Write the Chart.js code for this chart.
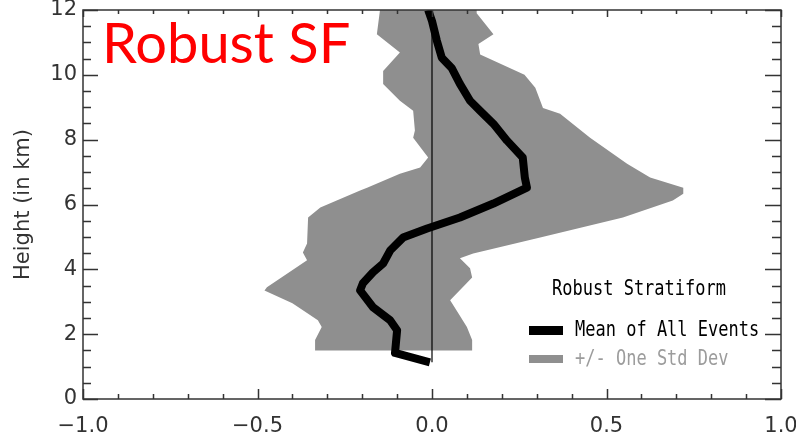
<!DOCTYPE html>
<html>
<head>
<meta charset="utf-8">
<script src="https://cdn.jsdelivr.net/npm/chart.js@4"></script>
<style>
  html, body { margin: 0; padding: 0; background: #fff; }
  #wrap { width: 796px; height: 438px; position: relative; }
</style>
</head>
<body>
<div id="wrap"><canvas id="profileChart"></canvas></div>
<script>
// mean profile of all events: height (km) -> value
const meanHeights = [1.13, 1.42, 2.12, 2.43, 2.83, 3.35, 3.57, 3.91, 4.18, 4.58, 4.98, 5.26, 5.6, 6.03, 6.52, 6.83, 7.45, 7.97, 8.49, 8.89, 9.2, 9.72, 10.2, 10.53, 11.05, 11.66, 12.0];
const meanValues  = [-0.006, -0.106, -0.10, -0.12, -0.169, -0.206, -0.198, -0.169, -0.14, -0.12, -0.083, -0.014, 0.08, 0.176, 0.272, 0.266, 0.26, 0.215, 0.176, 0.138, 0.109, 0.08, 0.057, 0.028, 0.014, 0.0, -0.011];

// mean minus one std dev
const lowerHeights = [1.5, 1.82, 2.22, 2.43, 2.95, 3.35, 3.45, 4.28, 4.52, 4.8, 5.6, 5.91, 6.43, 6.52, 6.95, 7.14, 7.45, 8.06, 8.28, 8.89, 9.2, 9.72, 10.12, 10.69, 11.25, 12.0];
const lowerValues  = [-0.335, -0.335, -0.316, -0.327, -0.40, -0.48, -0.473, -0.358, -0.37, -0.358, -0.355, -0.32, -0.206, -0.186, -0.092, -0.034, -0.011, -0.054, -0.049, -0.054, -0.092, -0.14, -0.14, -0.092, -0.158, -0.149];

// mean plus one std dev
const upperHeights = [1.5, 1.82, 2.22, 2.65, 3.05, 3.75, 4.03, 4.34, 4.49, 4.98, 5.6, 6.12, 6.33, 6.52, 6.83, 7.26, 8.06, 8.8, 8.98, 9.6, 10.0, 10.63, 10.95, 11.25, 11.9, 12.0];
const upperValues  = [0.115, 0.115, 0.10, 0.075, 0.052, 0.115, 0.109, 0.08, 0.118, 0.31, 0.547, 0.69, 0.72, 0.72, 0.625, 0.559, 0.453, 0.367, 0.318, 0.296, 0.265, 0.138, 0.133, 0.176, 0.128, 0.128];

// zero reference line
const zeroHeights = [1.13, 12.0];

const xTicks = [-1.0, -0.5, 0.0, 0.5, 1.0];
const yTicks = [0, 2, 4, 6, 8, 10, 12];

const legendTitle = 'Robust Stratiform';
const meanLabel = 'Mean of All Events';
const bandLabel = '+/- One Std Dev';
const panelLabel = 'Robust SF';

const toPoints = (hs, vs) => hs.map((h, i) => ({ x: vs[i], y: h }));

// closed envelope: up the lower edge, back down the upper edge
const bandPoints = toPoints(lowerHeights, lowerValues)
    .concat(toPoints(upperHeights, upperValues).reverse());

const axisColor = '#333';
const bandColor = '#8f8f8f';

// box frame with inward minor/major ticks on all four sides
const frameTicks = {
    id: 'frameTicks',
    afterDatasetsDraw(chart) {
        const { ctx, chartArea: a, scales: { x, y } } = chart;
        ctx.save();
        ctx.strokeStyle = axisColor;
        ctx.lineWidth = 1.5;
        ctx.strokeRect(a.left, a.top, a.right - a.left, a.bottom - a.top);
        ctx.beginPath();
        for (let i = 0; i <= 20; i++) {
            const px = Math.round(x.getPixelForValue(-1 + i * 0.1)) + 0.5;
            const major = i % 5 === 0;
            ctx.moveTo(px, a.bottom); ctx.lineTo(px, a.bottom - (major ? 10 : 5));
            ctx.moveTo(px, a.top); ctx.lineTo(px, a.top + (major ? 7 : 4));
        }
        for (let i = 0; i <= 24; i++) {
            const py = Math.round(y.getPixelForValue(i * 0.5)) + 0.5;
            const major = i % 4 === 0;
            ctx.moveTo(a.left, py); ctx.lineTo(a.left + (major ? 15 : 8), py);
            ctx.moveTo(a.right, py); ctx.lineTo(a.right - (major ? 16 : 9), py);
        }
        ctx.stroke();
        ctx.restore();
    }
};

function monoText(ctx, text, x, yMid, color) {
    ctx.save();
    ctx.translate(x, yMid);
    ctx.scale(1, 1.2);
    ctx.font = '17px "DejaVu Sans Mono"';
    ctx.fillStyle = color;
    ctx.textBaseline = 'middle';
    ctx.fillText(text, 0, 0);
    ctx.restore();
}

// in-plot legend and the red panel label
const annotations = {
    id: 'annotations',
    afterDraw(chart) {
        const { ctx } = chart;
        monoText(ctx, legendTitle, 552, 290, '#000');
        ctx.fillStyle = '#000';
        ctx.fillRect(529, 326, 34, 9);
        monoText(ctx, meanLabel, 575, 331, '#000');
        ctx.fillStyle = bandColor;
        ctx.fillRect(529, 355, 34, 8);
        monoText(ctx, bandLabel, 575, 360, '#9c9c9c');

        ctx.save();
        ctx.font = '56px Lato';
        ctx.fillStyle = '#ff0000';
        ctx.textBaseline = 'alphabetic';
        ctx.fillText(panelLabel, 102, 63);
        ctx.restore();
    }
};

const tickFont = { family: 'DejaVu Sans', size: 21 };

new Chart(document.getElementById('profileChart'), {
    type: 'line',
    data: {
        datasets: [
            {
                label: meanLabel,
                data: toPoints(meanHeights, meanValues),
                borderColor: '#000',
                borderWidth: 8,
                borderJoinStyle: 'round',
                pointRadius: 0,
                fill: false,
                order: 0
            },
            {
                label: 'zero',
                data: toPoints(zeroHeights, zeroHeights.map(() => 0)),
                borderColor: '#000',
                borderWidth: 1.2,
                pointRadius: 0,
                fill: false,
                order: 1
            },
            {
                label: bandLabel,
                data: bandPoints,
                borderWidth: 0,
                borderColor: bandColor,
                backgroundColor: bandColor,
                pointRadius: 0,
                fill: 'shape',
                order: 2
            }
        ]
    },
    options: {
        responsive: true,
        maintainAspectRatio: false,
        animation: false,
        events: [],
        layout: { padding: { top: 10, right: 15, left: 0, bottom: 0 } },
        plugins: { legend: { display: false }, tooltip: { enabled: false } },
        scales: {
            x: {
                type: 'linear',
                min: -1, max: 1,
                grid: { display: false, drawTicks: false },
                border: { display: false },
                afterBuildTicks: s => { s.ticks = xTicks.map(v => ({ value: v })); },
                afterFit: s => { s.height = 39; s.paddingLeft = 0; s.paddingRight = 0; },
                ticks: {
                    font: tickFont, color: axisColor, padding: 15, maxRotation: 0,
                    callback: v => (v < 0 ? '\u2212' : '') + Math.abs(v).toFixed(1)
                }
            },
            y: {
                type: 'linear',
                min: 0, max: 12,
                grid: { display: false, drawTicks: false },
                border: { display: false },
                afterBuildTicks: s => { s.ticks = yTicks.map(v => ({ value: v })); },
                afterFit: s => { s.width = 83; s.paddingTop = 0; s.paddingBottom = 0; },
                ticks: { font: tickFont, color: axisColor, padding: 6 },
                title: {
                    display: true,
                    text: 'Height (in km)',
                    font: tickFont,
                    color: axisColor,
                    padding: { top: 11, bottom: 0 }
                }
            }
        }
    },
    plugins: [frameTicks, annotations]
});
</script>
</body>
</html>
